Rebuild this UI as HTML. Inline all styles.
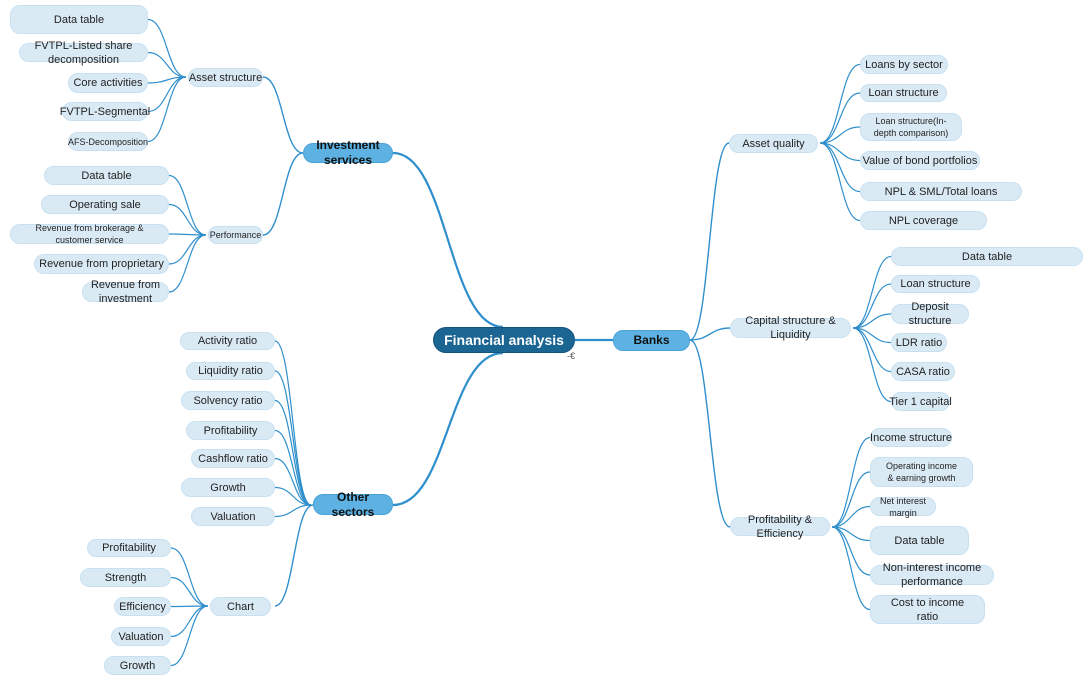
<!DOCTYPE html>
<html><head><meta charset="utf-8"><style>
html,body{margin:0;padding:0;background:#fff;width:1090px;height:679px;overflow:hidden;position:relative;font-family:"Liberation Sans",sans-serif}
.n{position:absolute;box-sizing:border-box;background:#daeaf5;border:1px solid #c7e0f2;border-radius:10px;color:#222;font-size:11px;line-height:14px;display:flex;align-items:center;justify-content:center;text-align:center;white-space:nowrap}
.s{font-size:9px;line-height:12px}
.m{background:#5db2e3;border:1px solid #4aa3d8;color:#111;font-weight:bold;font-size:12px;line-height:15px}
.c{background:#1b6593;border:1px solid #15547c;color:#fff;font-weight:bold;font-size:14px;border-radius:13px}
svg{position:absolute;left:0;top:0}
</style></head><body>
<svg id="sv" width="1090" height="679"></svg>
<div id="box"></div>
<script>
var N=[];
function n(t,x1,y1,x2,y2,c){N.push([t,x1,y1,x2,y2,c||""]);}
n("Financial analysis",433,327,575,353,"c");
n("Banks",613,330,690,351,"m");
n("Investment<br>services",303,143,393,163,"m");
n("Other<br>sectors",313,494,393,515,"m");
n("Asset structure",188,68,263,87);
n("Performance",208,226,263,244,"s");
n("Chart",210,597,271,616);
n("Asset quality",729,134,818,153);
n("Capital structure &amp;<br>Liquidity",730,318,851,338);
n("Profitability &amp;<br>Efficiency",730,517,830,536);
var L1=[["Data table",10,5,148,34],["FVTPL-Listed share<br>decomposition",19,43,148,62],["Core activities",68,73,148,93],["FVTPL-Segmental",62,102,148,121],["AFS-Decomposition",68,132,148,151,"s"]];
var L2=[["Data table",44,166,169,185],["Operating sale",41,195,169,214],["Revenue from brokerage &amp;<br>customer service",10,224,169,244,"s"],["Revenue from proprietary",34,254,169,274],["Revenue from<br>investment",82,282,169,302]];
var L3=[["Activity ratio",180,332,275,350],["Liquidity ratio",186,362,275,380],["Solvency ratio",181,391,275,410],["Profitability",186,421,275,440],["Cashflow ratio",191,449,275,468],["Growth",181,478,275,497],["Valuation",191,507,275,526]];
var L4=[["Profitability",87,539,171,557],["Strength",80,568,171,587],["Efficiency",114,597,171,616],["Valuation",111,627,171,646],["Growth",104,656,171,675]];
var R1=[["Loans by sector",860,55,948,74],["Loan structure",860,84,947,102],["Loan structure(In-<br>depth comparison)",860,113,962,141,"s"],["Value of bond portfolios",860,151,980,170],["NPL &amp; SML/Total loans",860,182,1022,201],["NPL coverage",860,211,987,230]];
var R2=[["Data table",891,247,1083,266],["Loan structure",891,275,980,293],["Deposit<br>structure",891,304,969,324],["LDR ratio",891,333,947,352],["CASA ratio",891,362,955,381],["Tier 1 capital",891,392,950,411]];
var R3=[["Income structure",870,428,952,447],["Operating income<br>&amp; earning growth",870,457,973,487,"s"],["Net interest<br>margin",870,497,936,516,"s"],["Data table",870,526,969,555],["Non-interest income<br>performance",870,565,994,585],["Cost to income<br>ratio",870,595,985,624]];
[L1,L2,L3,L4,R1,R2,R3].forEach(function(a){a.forEach(function(e){n(e[0],e[1],e[2],e[3],e[4],e[5]);});});
var h="";N.forEach(function(e){h+='<div class="n '+e[5]+'" style="left:'+e[1]+'px;top:'+e[2]+'px;width:'+(e[3]-e[1])+'px;height:'+(e[4]-e[2])+'px">'+e[0]+'</div>';});
document.getElementById("box").innerHTML=h;
var p="";
function cv(x1,y1,x2,y2,w){var mx=(x1+x2)/2;p+='<path d="M'+x1+' '+y1+' C'+mx+' '+y1+' '+mx+' '+y2+' '+x2+' '+y2+'" fill="none" stroke="#2f8fcc" stroke-width="'+(w||1.2)+'"/>';}
cv(503,327,393,153,2.2);cv(503,353,393,505,2.2);
p+='<path d="M575 340 L613 340" stroke="#2f8fcc" stroke-width="2.2"/>';
cv(303,153,263,77,1.4);cv(303,153,263,235,1.4);
cv(313,505,275,606,1.4);
cv(690,340,729,143,1.4);cv(690,340,730,328,1.4);cv(690,340,730,527,1.4);
function fan(arr,px,py,left){arr.forEach(function(e){var cy=(e[2]+e[4])/2;if(left)cv(px,py,e[3],cy);else cv(px,py,e[1],cy);});}
fan(L1,186,77,1);fan(L2,206,235,1);fan(L4,208,606,1);
fan(L3,311,505,1);
fan(R1,820,143,0);fan(R2,853,328,0);fan(R3,832,527,0);
document.getElementById("sv").innerHTML=p;
</script>
<div style="position:absolute;left:567px;top:351px;font-size:9px;color:#555">-€</div>
</body></html>
